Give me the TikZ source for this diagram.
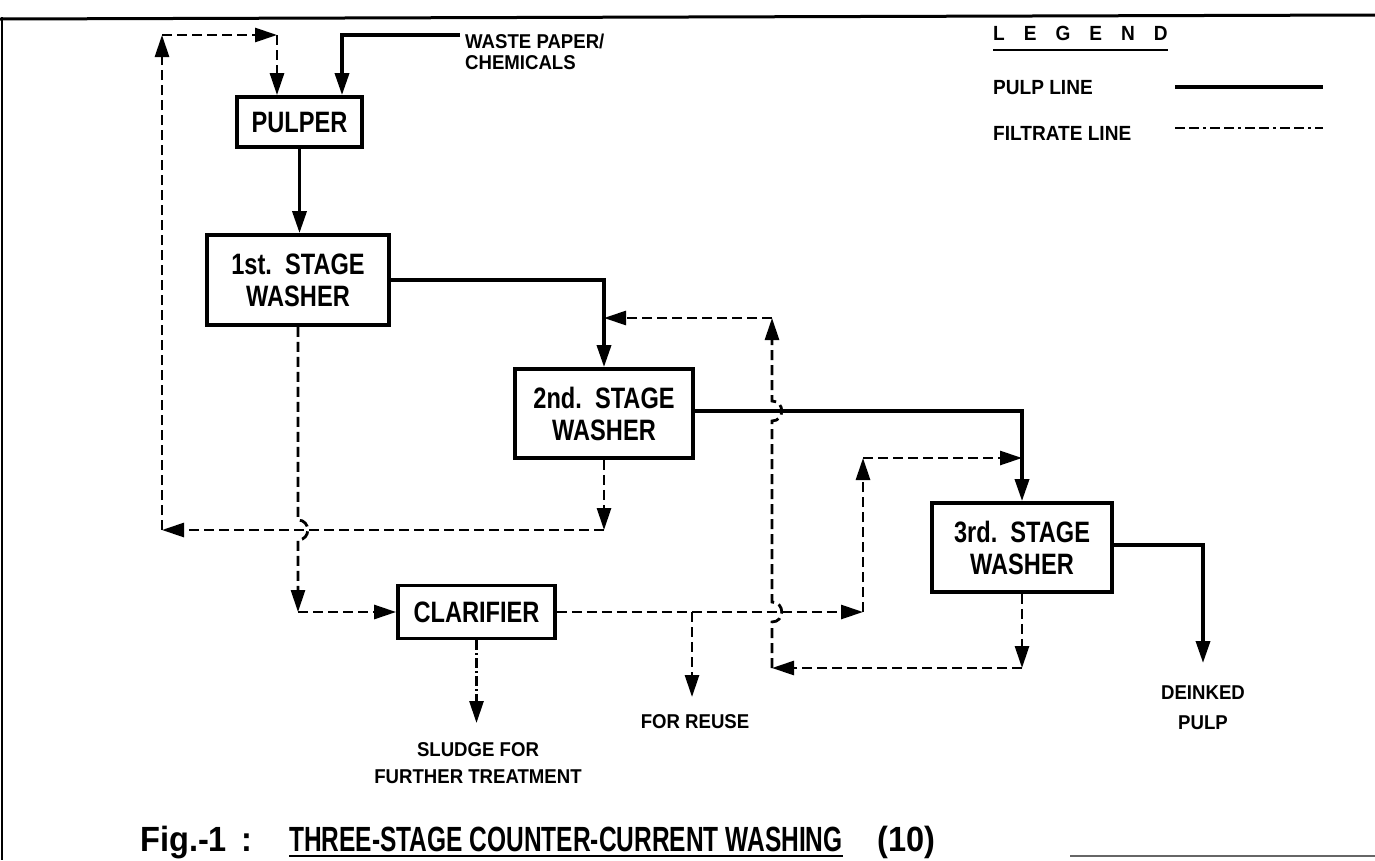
\documentclass[tikz,border=0pt]{standalone}
\usepackage{fontspec}
\setmainfont{Liberation Sans}[FakeStretch=0.93]
\newfontfamily\boxfont{Liberation Sans}[FakeStretch=0.80]
\newfontfamily\capfont{Liberation Sans}[FakeStretch=0.70]
\usetikzlibrary{arrows.meta}
\tikzset{
  box/.style={draw, line width=3.8pt, inner sep=0pt, align=center, font=\boxfont\bfseries\fontsize{29.5}{32}\selectfont},
  tipend/.style={-{Triangle[length=22pt,width=14pt]}},
  pulp/.style={line width=3.5pt, tipend},
  pulpplain/.style={line width=3.5pt},
  filt/.style={line width=2.8pt, dash pattern=on 10pt off 5pt, tipend},
  filtdd/.style={line width=2.8pt, dash pattern=on 10pt off 3pt on 2pt off 3pt, tipend},
  filtplain/.style={line width=2.8pt, dash pattern=on 10pt off 4pt on 10pt off 4pt on 3pt off 4pt},
  lbl/.style={inner sep=0pt, align=center, font=\bfseries\fontsize{20}{27}\selectfont},
  lgd/.style={inner sep=0pt, anchor=west, font=\bfseries\fontsize{20.5}{24}\selectfont},
  captext/.style={inner sep=0pt, anchor=base west, font=\bfseries\fontsize{35}{38}\selectfont},
}
\begin{document}
\begin{tikzpicture}[x=1pt,y=-1pt]
\useasboundingbox (0,0) rectangle (1375,860);
% frame
\coordinate (frTL) at (0,19);
\coordinate (frTR) at (1375,15);
\coordinate (frL1) at (2,17);
\coordinate (frL2) at (2,860);
\coordinate (frB1) at (1070,856);
\coordinate (frB2) at (1375,856);
\draw[line width=3pt] (frTL) -- (frTR);
\draw[line width=2.5pt] (frL1) -- (frL2);
\draw[line width=1.2pt, black!60] (frB1) -- (frB2);

% boxes
\node[box, minimum width=125pt, minimum height=50pt] (pulper) at (299.5,122) {PULPER};
\node[box, minimum width=182pt, minimum height=90pt] (w1) at (298,280) {1st.\ \ STAGE\\WASHER};
\node[box, minimum width=178pt, minimum height=89pt] (w2) at (604,413.5) {2nd.\ \ STAGE\\WASHER};
\node[box, minimum width=180pt, minimum height=89pt] (w3) at (1022,547.5) {3rd.\ \ STAGE\\WASHER};
\node[box, minimum width=157pt, minimum height=53pt] (clar) at (476.5,612) {CLARIFIER};

% labels
\node[inner sep=0pt, anchor=north west, align=left, font=\bfseries\fontsize{20}{21}\selectfont] (waste) at (465,34) {WASTE PAPER/\\CHEMICALS};
\node[lbl, font=\bfseries\fontsize{20}{30}\selectfont] (deinked) at (1203,708) {DEINKED\\PULP};
\node[lbl] (reuse) at (695,722) {FOR REUSE};
\node[lbl] (sludge) at (478,763.5) {SLUDGE FOR\\FURTHER TREATMENT};

% pulp lines
\coordinate (c1) at (342,35);
\coordinate (wasteIn) at (460,35);
\draw[pulp] (wasteIn) -- (c1) -- (pulper.north -| c1);
\draw[pulp] (pulper.south) -- (pulper.south |- w1.north);
\coordinate (k1) at (604,280);
\draw[pulp] (w1.east |- k1) -- (k1) -- (w2.north);
\coordinate (k2) at (1022,411);
\draw[pulp] (w2.east |- k2) -- (k2) -- (w3.north);
\coordinate (k3) at (1203,545);
\coordinate (dpEnd) at (1203,663);
\draw[pulp] (w3.east |- k3) -- (k3) -- (dpEnd);

% filtrate lines: 2nd stage washer back to pulper
\coordinate (f1) at (604,530);
\coordinate (f2) at (162,530);
\coordinate (f3) at (162,35);
\coordinate (f4) at (277,35);
\draw[filt] (w2.south) -- (f1);
\draw[filt] (f1) -- (f2);
\draw[filt] (f2) -- (f3);
\draw[filt] (f3) -- (f4);
\draw[filt] (f4) -- (pulper.north -| f4);

% 1st stage washer to clarifier
\coordinate (f5) at (298,612);
\draw[filt] (w1.south) -- (298,520) .. controls (311,520) and (311,540) .. (298,540) -- (f5);
\draw[filt] (f5) -- (clar.west);

% clarifier to 3rd stage
\coordinate (f6) at (863,612);
\coordinate (f7) at (863,458);
\coordinate (f8) at (1022,458);
\draw[filt] (clar.east) -- (f6);
\draw[filt] (f6) -- (f7);
\draw[filt] (f7) -- (f8);

% for reuse branch
\coordinate (r0) at (692,612);
\coordinate (r1) at (692,697);
\draw[filt] (r0) -- (r1);

% sludge
\coordinate (s1) at (476.5,723);
\draw[filtdd] (clar.south) -- (s1);

% 3rd stage washer back to 2nd stage
\coordinate (g1) at (1022,668);
\coordinate (g2) at (772,668);
\coordinate (g3) at (772,318);
\coordinate (g4) at (604,318);
\draw[filt] (w3.south) -- (g1);
\draw[filt] (g1) -- (g2);
\draw[filt] (g2) -- (772,622) .. controls (785,622) and (785,602) .. (772,602)
  -- (772,421) .. controls (785,421) and (785,401) .. (772,401) -- (g3);
\draw[filt] (g3) -- (g4);

% legend
\node[lgd] (legend) at (993,33) {L\hspace{19pt}E\hspace{19pt}G\hspace{19pt}E\hspace{19pt}N\hspace{19pt}D};
\draw[line width=2pt] ([yshift=-17pt]legend.west) -- ([yshift=-17pt]legend.east);
\node[lgd] (lgpulp) at (993,88) {PULP LINE};
\node[lgd] (lgfilt) at (993,133) {FILTRATE LINE};
\coordinate (lp1) at (1175,87);
\coordinate (lp2) at (1323,87);
\coordinate (lf1) at (1175,128);
\coordinate (lf2) at (1323,128);
\draw[pulpplain] (lp1) -- (lp2);
\draw[filtplain] (lf1) -- (lf2);

% caption
\node[captext] (figlbl) at (140,851) {Fig.-1\hspace{14pt}:};
\node[captext, font=\capfont\bfseries\fontsize{35}{38}\selectfont] (title) at (289,851) {THREE-STAGE COUNTER-CURRENT WASHING};
\node[captext] (refno) at (877,851) {(10)};
\draw[line width=2pt] ([yshift=-5pt]title.base west) -- ([yshift=-5pt]title.base east);
\end{tikzpicture}
\end{document}
